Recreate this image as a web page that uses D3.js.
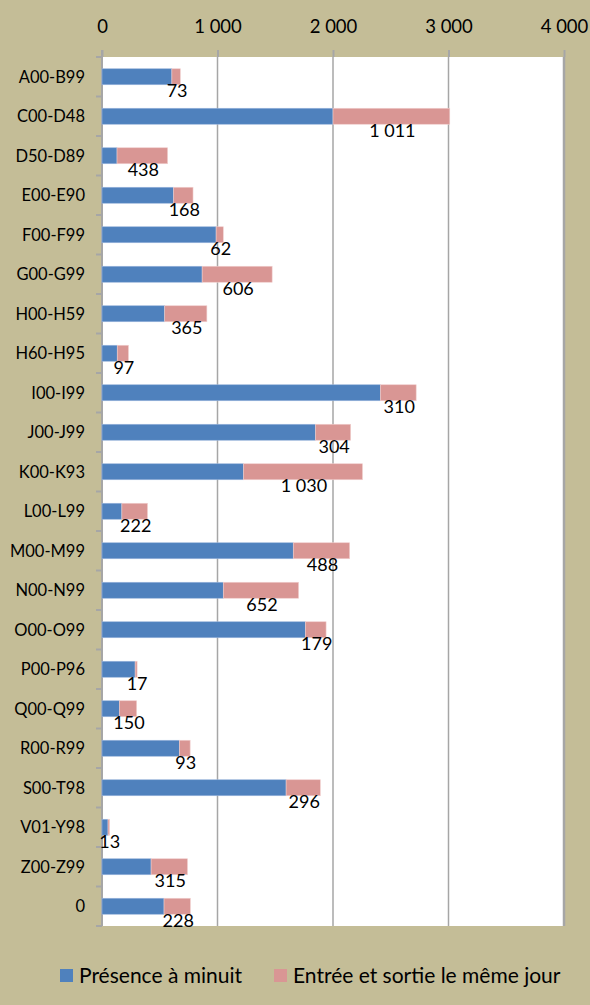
<!DOCTYPE html>
<html><head><meta charset="utf-8">
<script src="https://cdn.jsdelivr.net/npm/d3@7"></script>
<style>
html,body{margin:0;padding:0;background:#C4BD97;}
svg{display:block;}
text{font-family:Lato,"Open Sans",sans-serif;fill:#000;}
</style></head>
<body><svg id="c" width="590" height="1005"></svg>
<script>
const categories = ["A00-B99","C00-D48","D50-D89","E00-E90","F00-F99","G00-G99","H00-H59","H60-H95","I00-I99","J00-J99","K00-K93","L00-L99","M00-M99","N00-N99","O00-O99","P00-P96","Q00-Q99","R00-R99","S00-T98","V01-Y98","Z00-Z99","0"];
const presenceMinuit = [605,2000,130,620,988,867,543,132,2410,1849,1225,172,1656,1050,1761,287,150,670,1594,52,425,537];
const entreeSortie = [73,1011,438,168,62,606,365,97,310,304,1030,222,488,652,179,17,150,93,296,13,315,228];
const xTicks = [0,1000,2000,3000,4000];
const seriesNames = ["Présence à minuit","Entrée et sortie le même jour"];
const colors = ["#4F81BD","#D99694"];

const svg = d3.select("#c");
const L=102, R=564, T=57, B=926;
const x = d3.scaleLinear().domain([0,4000]).range([L,R]);
const y = d3.scaleBand().domain(categories).range([T,B]).paddingInner(0.595).paddingOuter(0.2975);
const fmt = v => d3.format(",")(v).replace(/,/g," ");

svg.append("rect").attr("x",L).attr("y",T).attr("width",R-L).attr("height",B-T).attr("fill","#fff");

// gridlines
svg.append("g").selectAll("line").data(xTicks.slice(1)).join("line")
  .attr("x1",d=>x(d)).attr("x2",d=>x(d)).attr("y1",T).attr("y2",B)
  .attr("stroke","#A6A6A6").attr("stroke-width",d=>d===4000?2.5:1.5);

// top axis
const ax = svg.append("g").attr("transform",`translate(0,${T})`)
  .call(d3.axisTop(x).tickValues(xTicks).tickSize(7).tickFormat(fmt));
ax.select(".domain").remove();
ax.selectAll(".tick line").attr("stroke","#A6A6A6").attr("stroke-width",2);
ax.selectAll(".tick text").attr("font-size",18.5).attr("font-family","Lato").attr("y",-30).attr("dy","0.35em").attr("fill","#000");

// left axis
const ay = svg.append("g").attr("transform",`translate(${L},0)`);
ay.append("line").attr("x1",0).attr("x2",0).attr("y1",T-7).attr("y2",B).attr("stroke","#A6A6A6").attr("stroke-width",2);
const step = y.step();
const bounds = d3.range(categories.length+1).map(i=>T+i*step);
ay.selectAll("line.t").data(bounds).join("line").attr("class","t")
  .attr("x1",-6).attr("x2",0).attr("y1",d=>d).attr("y2",d=>d).attr("stroke","#A6A6A6").attr("stroke-width",2);
ay.selectAll("text").data(categories).join("text")
  .attr("x",-17).attr("y",d=>y(d)+y.bandwidth()/2).attr("dy","0.35em")
  .attr("text-anchor","end").attr("font-size",16.5).text(d=>d);

// bars
const bars = svg.append("g");
bars.selectAll("rect.b").data(categories).join("rect").attr("class","b")
  .attr("x",x(0)).attr("y",d=>y(d)).attr("height",y.bandwidth())
  .attr("width",(d,i)=>x(presenceMinuit[i])-x(0)).attr("fill",colors[0])
  .attr("stroke","#9DB7DC").attr("stroke-width",0.6);
bars.selectAll("rect.p").data(categories).join("rect").attr("class","p")
  .attr("x",(d,i)=>x(presenceMinuit[i])).attr("y",d=>y(d)).attr("height",y.bandwidth())
  .attr("width",(d,i)=>x(presenceMinuit[i]+entreeSortie[i])-x(presenceMinuit[i])).attr("fill",colors[1])
  .attr("stroke","#F0CFCE").attr("stroke-width",0.6);

// labels
svg.append("g").selectAll("text").data(categories).join("text")
  .attr("x",(d,i)=>x(presenceMinuit[i]+entreeSortie[i]/2)+1)
  .attr("y",d=>y(d)+y.bandwidth()/2+20.5)
  .attr("text-anchor","middle").attr("font-size",18)
  .text((d,i)=>fmt(entreeSortie[i]));

// legend
const lg = svg.append("g");
const lx = [60,274];
lg.selectAll("rect").data(seriesNames).join("rect")
  .attr("x",(d,i)=>lx[i]).attr("y",969).attr("width",13).attr("height",13).attr("fill",(d,i)=>colors[i]);
lg.selectAll("text").data(seriesNames).join("text")
  .attr("x",(d,i)=>lx[i]+19).attr("y",975.5).attr("dy","0.35em").attr("font-size",21).text(d=>d);
</script></body></html>
